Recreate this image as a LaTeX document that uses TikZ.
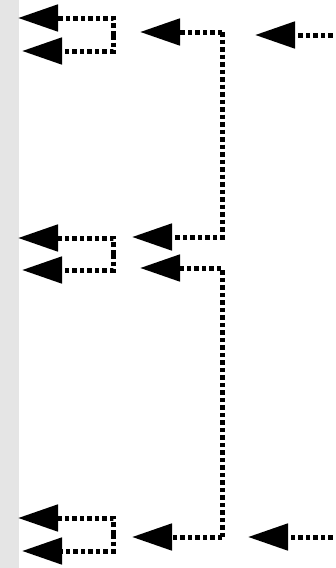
\documentclass[tikz,border=0pt]{standalone}
\usetikzlibrary{arrows.meta}
\begin{document}
\begin{tikzpicture}[
  x = 1pt, y = -1pt,
  link/.style = {line width=5pt, dash pattern=on 4.5pt off 3pt,
                 -{Triangle[length=40pt, width=26pt]}},
  strip/.style = {fill=black!10},
]
\useasboundingbox (0,0) rectangle (336,568);
\fill[strip] (0,0) rectangle (19,568);

% --- free ends on the right -------------------------------------------
\coordinate (rtop) at (340,35);
\coordinate (rbot) at (340,537);
\coordinate (mtop) at (255,35);
\coordinate (mbot) at (248,537);
\draw[link] (rtop) -- (mtop);
\draw[link] (rbot) -- (mbot);

% --- middle column ----------------------------------------------------
\coordinate (up)   at (222,32);
\coordinate (down) at (222,537);
\coordinate (m1) at (140,32);
\coordinate (m2) at (132,237);
\coordinate (m3) at (140,268);
\coordinate (m4) at (132,537);
\draw[link] (up) -- (m1);
\draw[link] (up) |- (m2);
\draw[link] (down) |- (m3);
\draw[link] (down) -- (m4);

% --- left column ------------------------------------------------------
\coordinate (k1) at (113,35);
\coordinate (k2) at (113,254);
\coordinate (k3) at (113,534);
\coordinate (a1) at (18,18);
\coordinate (a2) at (22,51);
\coordinate (b1) at (18,238);
\coordinate (b2) at (22,270);
\coordinate (c1) at (18,518);
\coordinate (c2) at (22,551);
\draw[link] (k1) |- (a1);
\draw[link] (k1) |- (a2);
\draw[link] (k2) |- (b1);
\draw[link] (k2) |- (b2);
\draw[link] (k3) |- (c1);
\draw[link] (k3) |- (c2);

\end{tikzpicture}
\end{document}
